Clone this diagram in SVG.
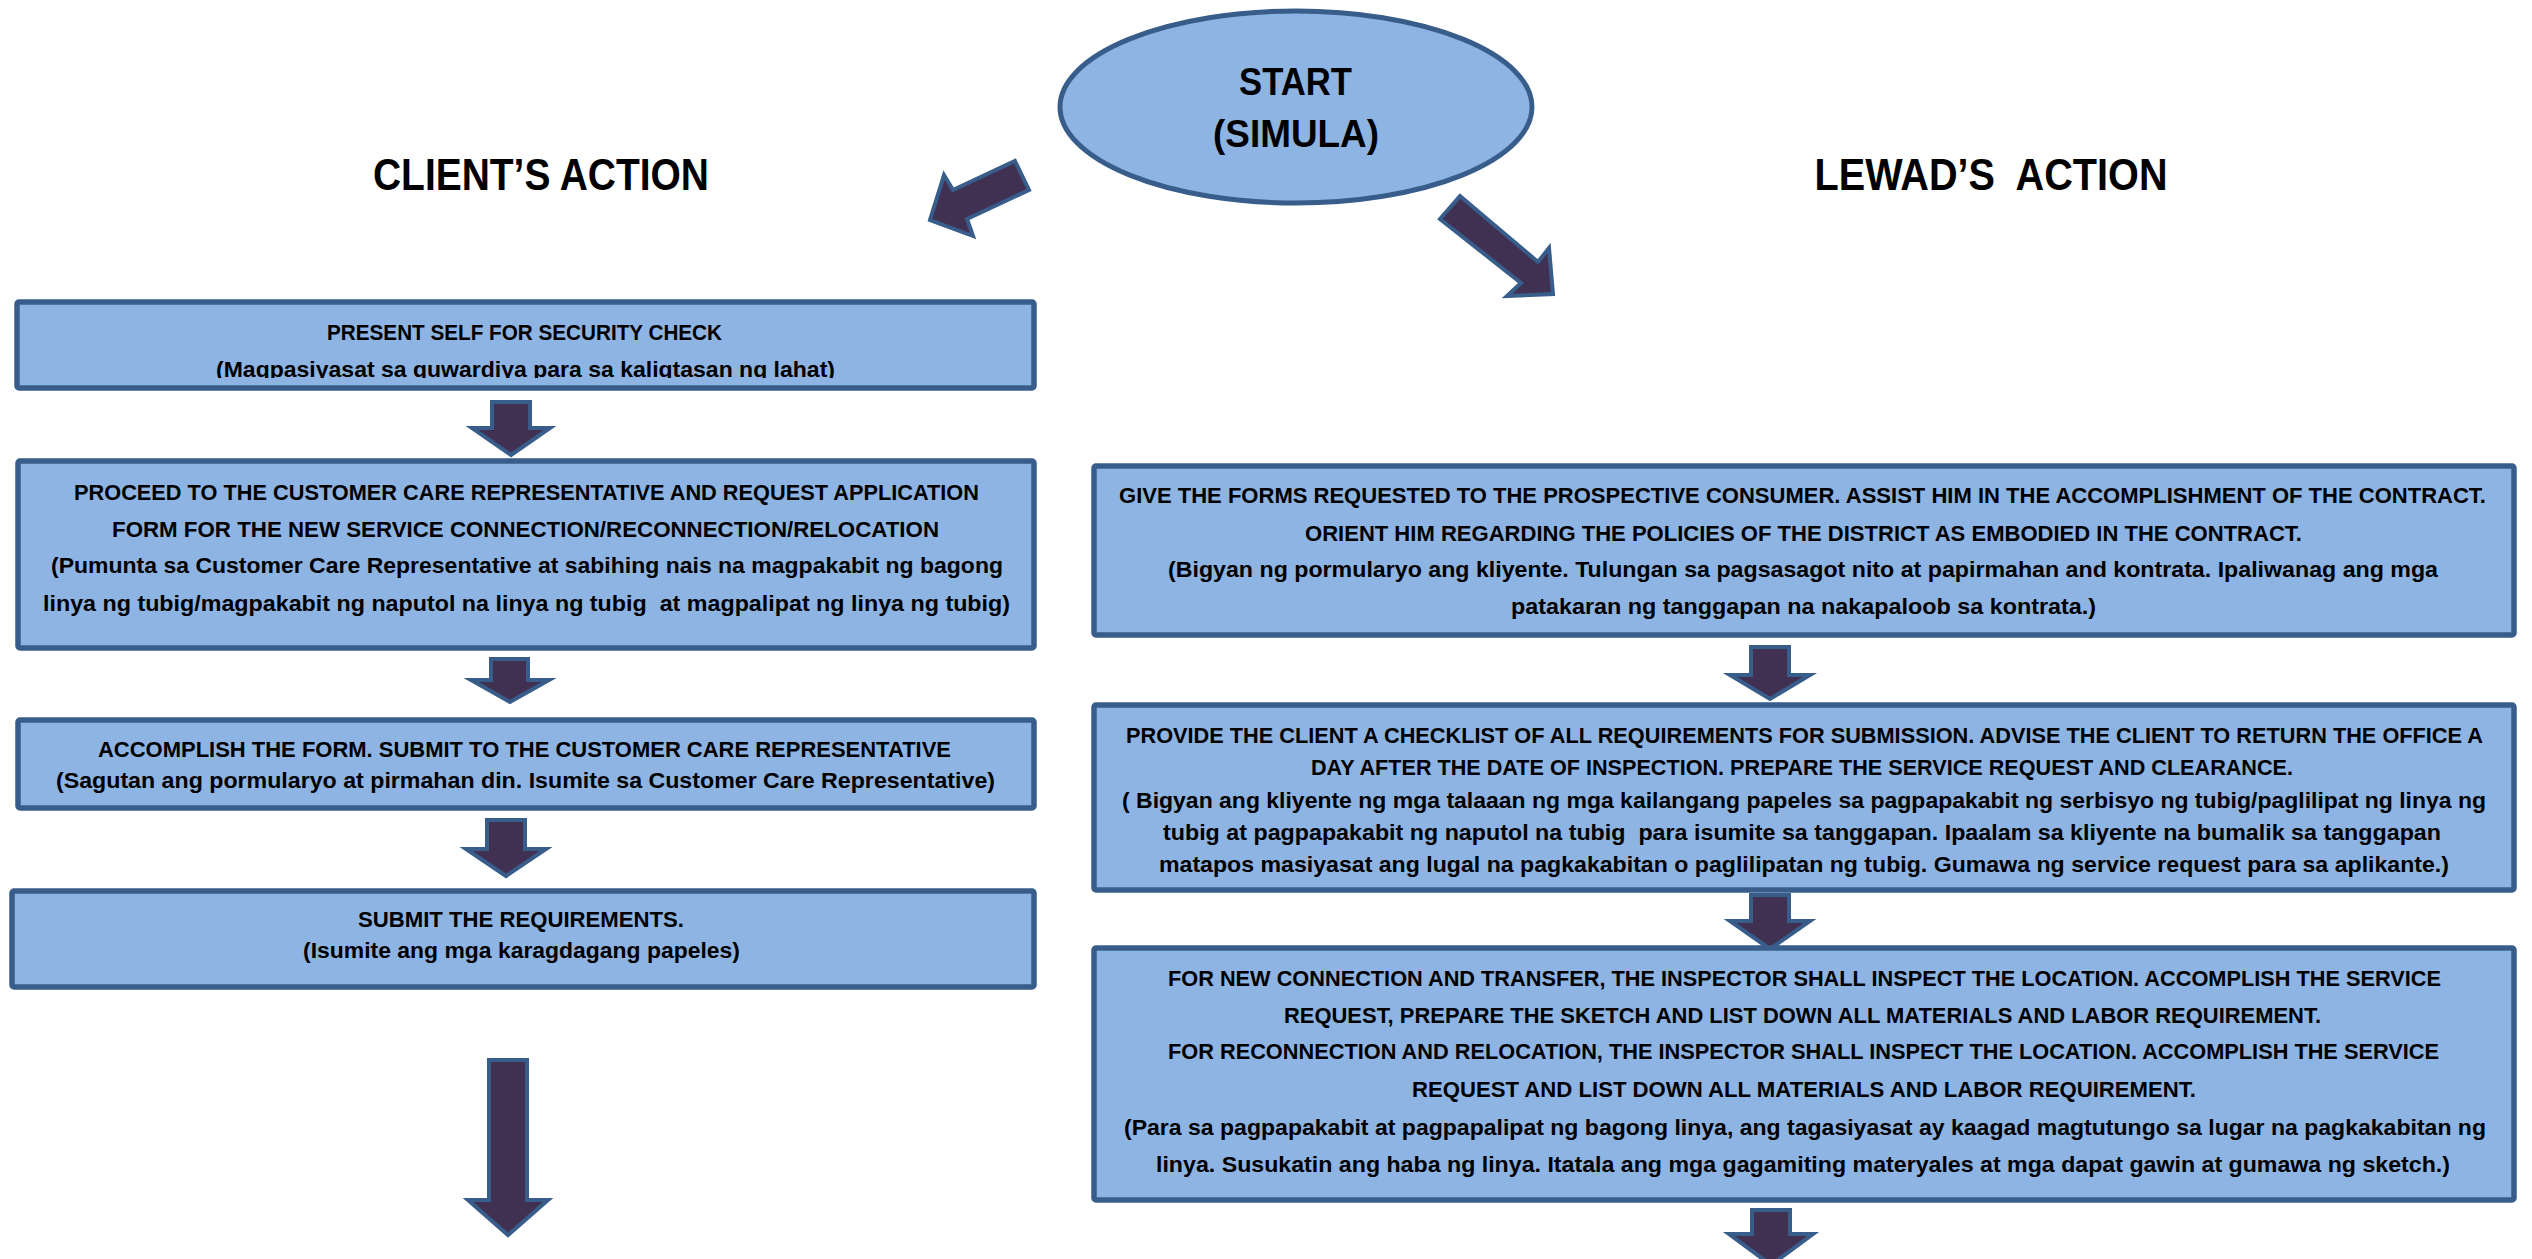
<svg xmlns="http://www.w3.org/2000/svg" width="2532" height="1259" viewBox="0 0 2532 1259">
<style>
.box{fill:#8EB4E3;stroke:#385D8A;stroke-width:5.5}
.arr{fill:#403152;stroke:#385D8A;stroke-width:4;stroke-linejoin:miter}
.t{font-family:"Liberation Sans",Arial,sans-serif;font-weight:bold;fill:#000;text-anchor:middle;font-size:22px}
.h{font-size:44px}
.s{font-size:38px}
</style>
<defs>
<clipPath id="clip1"><rect x="20" y="305" width="1012" height="73"/></clipPath>
</defs>
<rect width="2532" height="1259" fill="#fff"/>

<g id="headers">
<text class="t h" x="541" y="190" textLength="336" lengthAdjust="spacingAndGlyphs">CLIENT’S ACTION</text>
<text class="t h" x="1991" y="190" textLength="353" lengthAdjust="spacingAndGlyphs" xml:space="preserve">LEWAD’S  ACTION</text>
</g>

<g id="start">
<ellipse cx="1296" cy="107" rx="236" ry="96" fill="#8EB4E3" stroke="#385D8A" stroke-width="5"/>
<text class="t s" x="1295.5" y="95" textLength="113" lengthAdjust="spacingAndGlyphs">START</text>
<text class="t s" x="1296" y="147" textLength="166" lengthAdjust="spacingAndGlyphs">(SIMULA)</text>
</g>

<g id="connectors">
<polygon class="arr" points="1015,161 1029,190 967,219 973,236 930,220 944,175 953,190"/>
<polygon class="arr" points="1440,219 1460,196 1538,262 1549,248 1553,294 1507,296 1521,283"/>
<polygon class="arr" points="492,402 530,402 530,428 550,428 511,455 472,428 492,428"/>
<polygon class="arr" points="491,659 528,659 528,680 549,680 510,702 471,680 491,680"/>
<polygon class="arr" points="487,820 525,820 525,849 546,849 506,876 466,849 487,849"/>
<polygon class="arr" points="489,1060 527,1060 527,1200 548,1200 508,1235 468,1200 489,1200"/>
<polygon class="arr" points="1751,647 1789,647 1789,675 1810,675 1770,699 1730,675 1751,675"/>
<polygon class="arr" points="1751,895 1789,895 1789,921 1810,921 1770,949 1730,921 1751,921"/>
<polygon class="arr" points="1752,1210 1790,1210 1790,1234 1813,1234 1771,1265 1729,1234 1752,1234"/>
</g>

<g id="c1">
<rect class="box" x="17" y="302" width="1017" height="86" rx="2"/>
<text class="t" x="524.5" y="340" textLength="395" lengthAdjust="spacingAndGlyphs">PRESENT SELF FOR SECURITY CHECK</text>
<g clip-path="url(#clip1)"><text class="t" x="525.5" y="377" textLength="619" lengthAdjust="spacingAndGlyphs">(Magpasiyasat sa guwardiya para sa kaligtasan ng lahat)</text></g>
</g>

<g id="c2">
<rect class="box" x="18" y="461" width="1016" height="187" rx="2"/>
<text class="t" x="526.5" y="500" textLength="905" lengthAdjust="spacingAndGlyphs">PROCEED TO THE CUSTOMER CARE REPRESENTATIVE AND REQUEST APPLICATION</text>
<text class="t" x="525.5" y="537" textLength="827" lengthAdjust="spacingAndGlyphs">FORM FOR THE NEW SERVICE CONNECTION/RECONNECTION/RELOCATION</text>
<text class="t" x="527" y="573" textLength="952" lengthAdjust="spacingAndGlyphs">(Pumunta sa Customer Care Representative at sabihing nais na magpakabit ng bagong</text>
<text class="t" x="526.5" y="611" textLength="967" lengthAdjust="spacingAndGlyphs" xml:space="preserve">linya ng tubig/magpakabit ng naputol na linya ng tubig  at magpalipat ng linya ng tubig)</text>
</g>

<g id="c3">
<rect class="box" x="18" y="720" width="1016" height="88" rx="2"/>
<text class="t" x="524.5" y="757" textLength="853" lengthAdjust="spacingAndGlyphs">ACCOMPLISH THE FORM. SUBMIT TO THE CUSTOMER CARE REPRESENTATIVE</text>
<text class="t" x="525.5" y="788" textLength="939" lengthAdjust="spacingAndGlyphs">(Sagutan ang pormularyo at pirmahan din. Isumite sa Customer Care Representative)</text>
</g>

<g id="c4">
<rect class="box" x="12" y="891" width="1022" height="96" rx="2"/>
<text class="t" x="521" y="927" textLength="326" lengthAdjust="spacingAndGlyphs">SUBMIT THE REQUIREMENTS.</text>
<text class="t" x="521.5" y="958" textLength="437" lengthAdjust="spacingAndGlyphs">(Isumite ang mga karagdagang papeles)</text>
</g>

<g id="l1">
<rect class="box" x="1094" y="466" width="1420" height="169" rx="2"/>
<text class="t" x="1802.5" y="503" textLength="1367" lengthAdjust="spacingAndGlyphs">GIVE THE FORMS REQUESTED TO THE PROSPECTIVE CONSUMER. ASSIST HIM IN THE ACCOMPLISHMENT OF THE CONTRACT.</text>
<text class="t" x="1803.5" y="541" textLength="997" lengthAdjust="spacingAndGlyphs">ORIENT HIM REGARDING THE POLICIES OF THE DISTRICT AS EMBODIED IN THE CONTRACT.</text>
<text class="t" x="1803" y="577" textLength="1270" lengthAdjust="spacingAndGlyphs">(Bigyan ng pormularyo ang kliyente. Tulungan sa pagsasagot nito at papirmahan and kontrata. Ipaliwanag ang mga</text>
<text class="t" x="1803.5" y="614" textLength="585" lengthAdjust="spacingAndGlyphs">patakaran ng tanggapan na nakapaloob sa kontrata.)</text>
</g>

<g id="l2">
<rect class="box" x="1094" y="705" width="1420" height="185" rx="2"/>
<text class="t" x="1804.5" y="743" textLength="1357" lengthAdjust="spacingAndGlyphs">PROVIDE THE CLIENT A CHECKLIST OF ALL REQUIREMENTS FOR SUBMISSION. ADVISE THE CLIENT TO RETURN THE OFFICE A</text>
<text class="t" x="1802" y="775" textLength="982" lengthAdjust="spacingAndGlyphs">DAY AFTER THE DATE OF INSPECTION. PREPARE THE SERVICE REQUEST AND CLEARANCE.</text>
<text class="t" x="1804" y="808" textLength="1364" lengthAdjust="spacingAndGlyphs">( Bigyan ang kliyente ng mga talaaan ng mga kailangang papeles sa pagpapakabit ng serbisyo ng tubig/paglilipat ng linya ng</text>
<text class="t" x="1802" y="840" textLength="1278" lengthAdjust="spacingAndGlyphs" xml:space="preserve">tubig at pagpapakabit ng naputol na tubig  para isumite sa tanggapan. Ipaalam sa kliyente na bumalik sa tanggapan</text>
<text class="t" x="1804" y="872" textLength="1290" lengthAdjust="spacingAndGlyphs">matapos masiyasat ang lugal na pagkakabitan o paglilipatan ng tubig. Gumawa ng service request para sa aplikante.)</text>
</g>

<g id="l3">
<rect class="box" x="1094" y="948" width="1420" height="252" rx="2"/>
<text class="t" x="1804.5" y="986" textLength="1273" lengthAdjust="spacingAndGlyphs">FOR NEW CONNECTION AND TRANSFER, THE INSPECTOR SHALL INSPECT THE LOCATION. ACCOMPLISH THE SERVICE</text>
<text class="t" x="1802.5" y="1023" textLength="1037" lengthAdjust="spacingAndGlyphs">REQUEST, PREPARE THE SKETCH AND LIST DOWN ALL MATERIALS AND LABOR REQUIREMENT.</text>
<text class="t" x="1803.5" y="1059" textLength="1271" lengthAdjust="spacingAndGlyphs">FOR RECONNECTION AND RELOCATION, THE INSPECTOR SHALL INSPECT THE LOCATION. ACCOMPLISH THE SERVICE</text>
<text class="t" x="1804" y="1097" textLength="784" lengthAdjust="spacingAndGlyphs">REQUEST AND LIST DOWN ALL MATERIALS AND LABOR REQUIREMENT.</text>
<text class="t" x="1805" y="1135" textLength="1362" lengthAdjust="spacingAndGlyphs">(Para sa pagpapakabit at pagpapalipat ng bagong linya, ang tagasiyasat ay kaagad magtutungo sa lugar na pagkakabitan ng</text>
<text class="t" x="1803" y="1172" textLength="1294" lengthAdjust="spacingAndGlyphs">linya. Susukatin ang haba ng linya. Itatala ang mga gagamiting materyales at mga dapat gawin at gumawa ng sketch.)</text>
</g>
</svg>
